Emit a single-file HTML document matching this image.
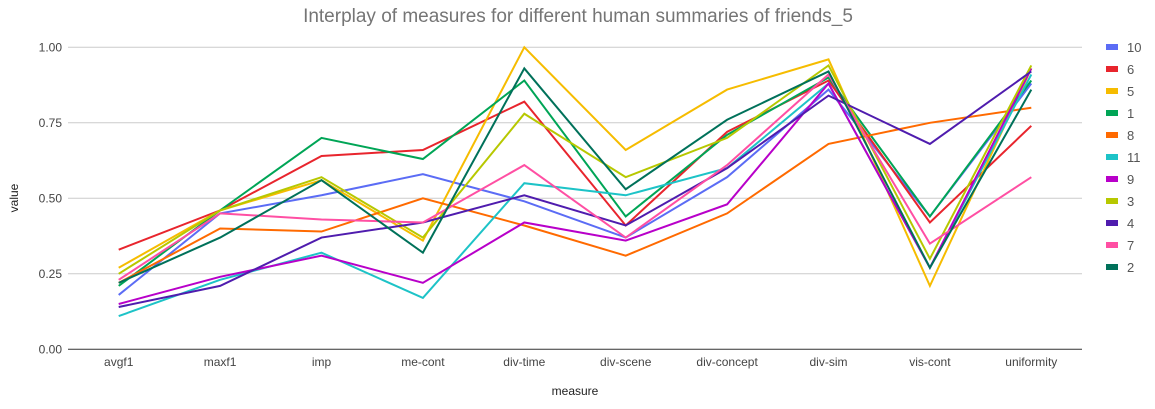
<!DOCTYPE html>
<html><head><meta charset="utf-8"><style>
body{margin:0;background:#fff;font-family:"Liberation Sans",Roboto,sans-serif}
svg text{font-family:"Liberation Sans",sans-serif}
</style></head><body>
<svg id="c" width="1155" height="404"></svg>
<script>
const categories=["avgf1","maxf1","imp","me-cont","div-time","div-scene","div-concept","div-sim","vis-cont","uniformity"];
const seriesNames=["10","6","5","1","8","11","9","3","4","7","2"];
const seriesColors=["#5b6cf5","#e8252d","#f6bc00","#00a556","#ff6a00","#1dc3c7","#b800c9","#b7c800","#4f1cae","#ff4fa3","#00715a"];
const s10=[0.18,0.45,0.51,0.58,0.49,0.37,0.57,0.86,0.44,0.88];
const s6=[0.33,0.46,0.64,0.66,0.82,0.41,0.72,0.89,0.42,0.74];
const s5=[0.27,0.46,0.56,0.36,1.00,0.66,0.86,0.96,0.21,0.93];
const s1=[0.21,0.46,0.70,0.63,0.89,0.44,0.71,0.90,0.44,0.89];
const s8=[0.22,0.40,0.39,0.50,0.41,0.31,0.45,0.68,0.75,0.80];
const s11=[0.11,0.23,0.32,0.17,0.55,0.51,0.60,0.88,0.27,0.91];
const s9=[0.15,0.24,0.31,0.22,0.42,0.36,0.48,0.88,0.27,0.93];
const s3=[0.25,0.46,0.57,0.37,0.78,0.57,0.70,0.94,0.30,0.94];
const s4=[0.14,0.21,0.37,0.42,0.51,0.41,0.60,0.84,0.68,0.92];
const s7=[0.23,0.45,0.43,0.42,0.61,0.37,0.61,0.91,0.35,0.57];
const s2=[0.22,0.37,0.56,0.32,0.93,0.53,0.76,0.92,0.27,0.86];
const yTicks=[0,0.25,0.5,0.75,1.0];
const yTickLabels=["0.00","0.25","0.50","0.75","1.00"];
const allSeries=[s10,s6,s5,s1,s8,s11,s9,s3,s4,s7,s2];

const NS="http://www.w3.org/2000/svg";
const svg=document.getElementById('c');
const L=68,R=1082,T=47.3,B=349.3;
const step=(R-L)/categories.length;
const x=i=>L+step*(i+0.5);
const y=v=>B-(B-T)*v;
function mk(tag,attrs,parent){const e=document.createElementNS(NS,tag);for(const k in attrs)e.setAttribute(k,attrs[k]);(parent||svg).appendChild(e);return e;}

const title=mk('text',{x:578,y:22,'text-anchor':'middle','font-size':19,fill:'#757575'});
title.textContent="Interplay of measures for different human summaries of friends_5";



yTicks.forEach((t,i)=>{
  const g=mk('line',{x1:L,x2:R,y1:y(t),y2:y(t),stroke:t===0?'#333':'#ccc','stroke-width':1});
  
  
  const tx=mk('text',{x:L-6,y:y(t)+4,'text-anchor':'end','font-size':12,fill:'#444'});
  tx.textContent=yTickLabels[i];
  
  
});
categories.forEach((c,i)=>{
  const tx=mk('text',{x:x(i),y:366,'text-anchor':'middle','font-size':12,fill:'#444'});
  tx.textContent=c;
  
  
});
const xt=mk('text',{x:575,y:395,'text-anchor':'middle','font-size':12,fill:'#222'});
xt.textContent="measure";


const yt=mk('text',{x:18,y:198,'text-anchor':'middle','font-size':12,fill:'#222',transform:'rotate(-90 18 198)'});
yt.textContent="value";



allSeries.forEach((s,k)=>{
  const p=mk('polyline',{points:s.map((v,i)=>x(i)+','+y(v)).join(' '),fill:'none',stroke:seriesColors[k],'stroke-width':2,'stroke-linejoin':'miter'});
  
  
  const ly=47+k*22;
  const r=mk('rect',{x:1106,y:ly-3,width:12,height:6,fill:seriesColors[k]});
  
  
  const t=mk('text',{x:1127,y:ly+5,'font-size':13,fill:'#555'});
  t.textContent=seriesNames[k];
  
  
});
</script>
</body></html>
